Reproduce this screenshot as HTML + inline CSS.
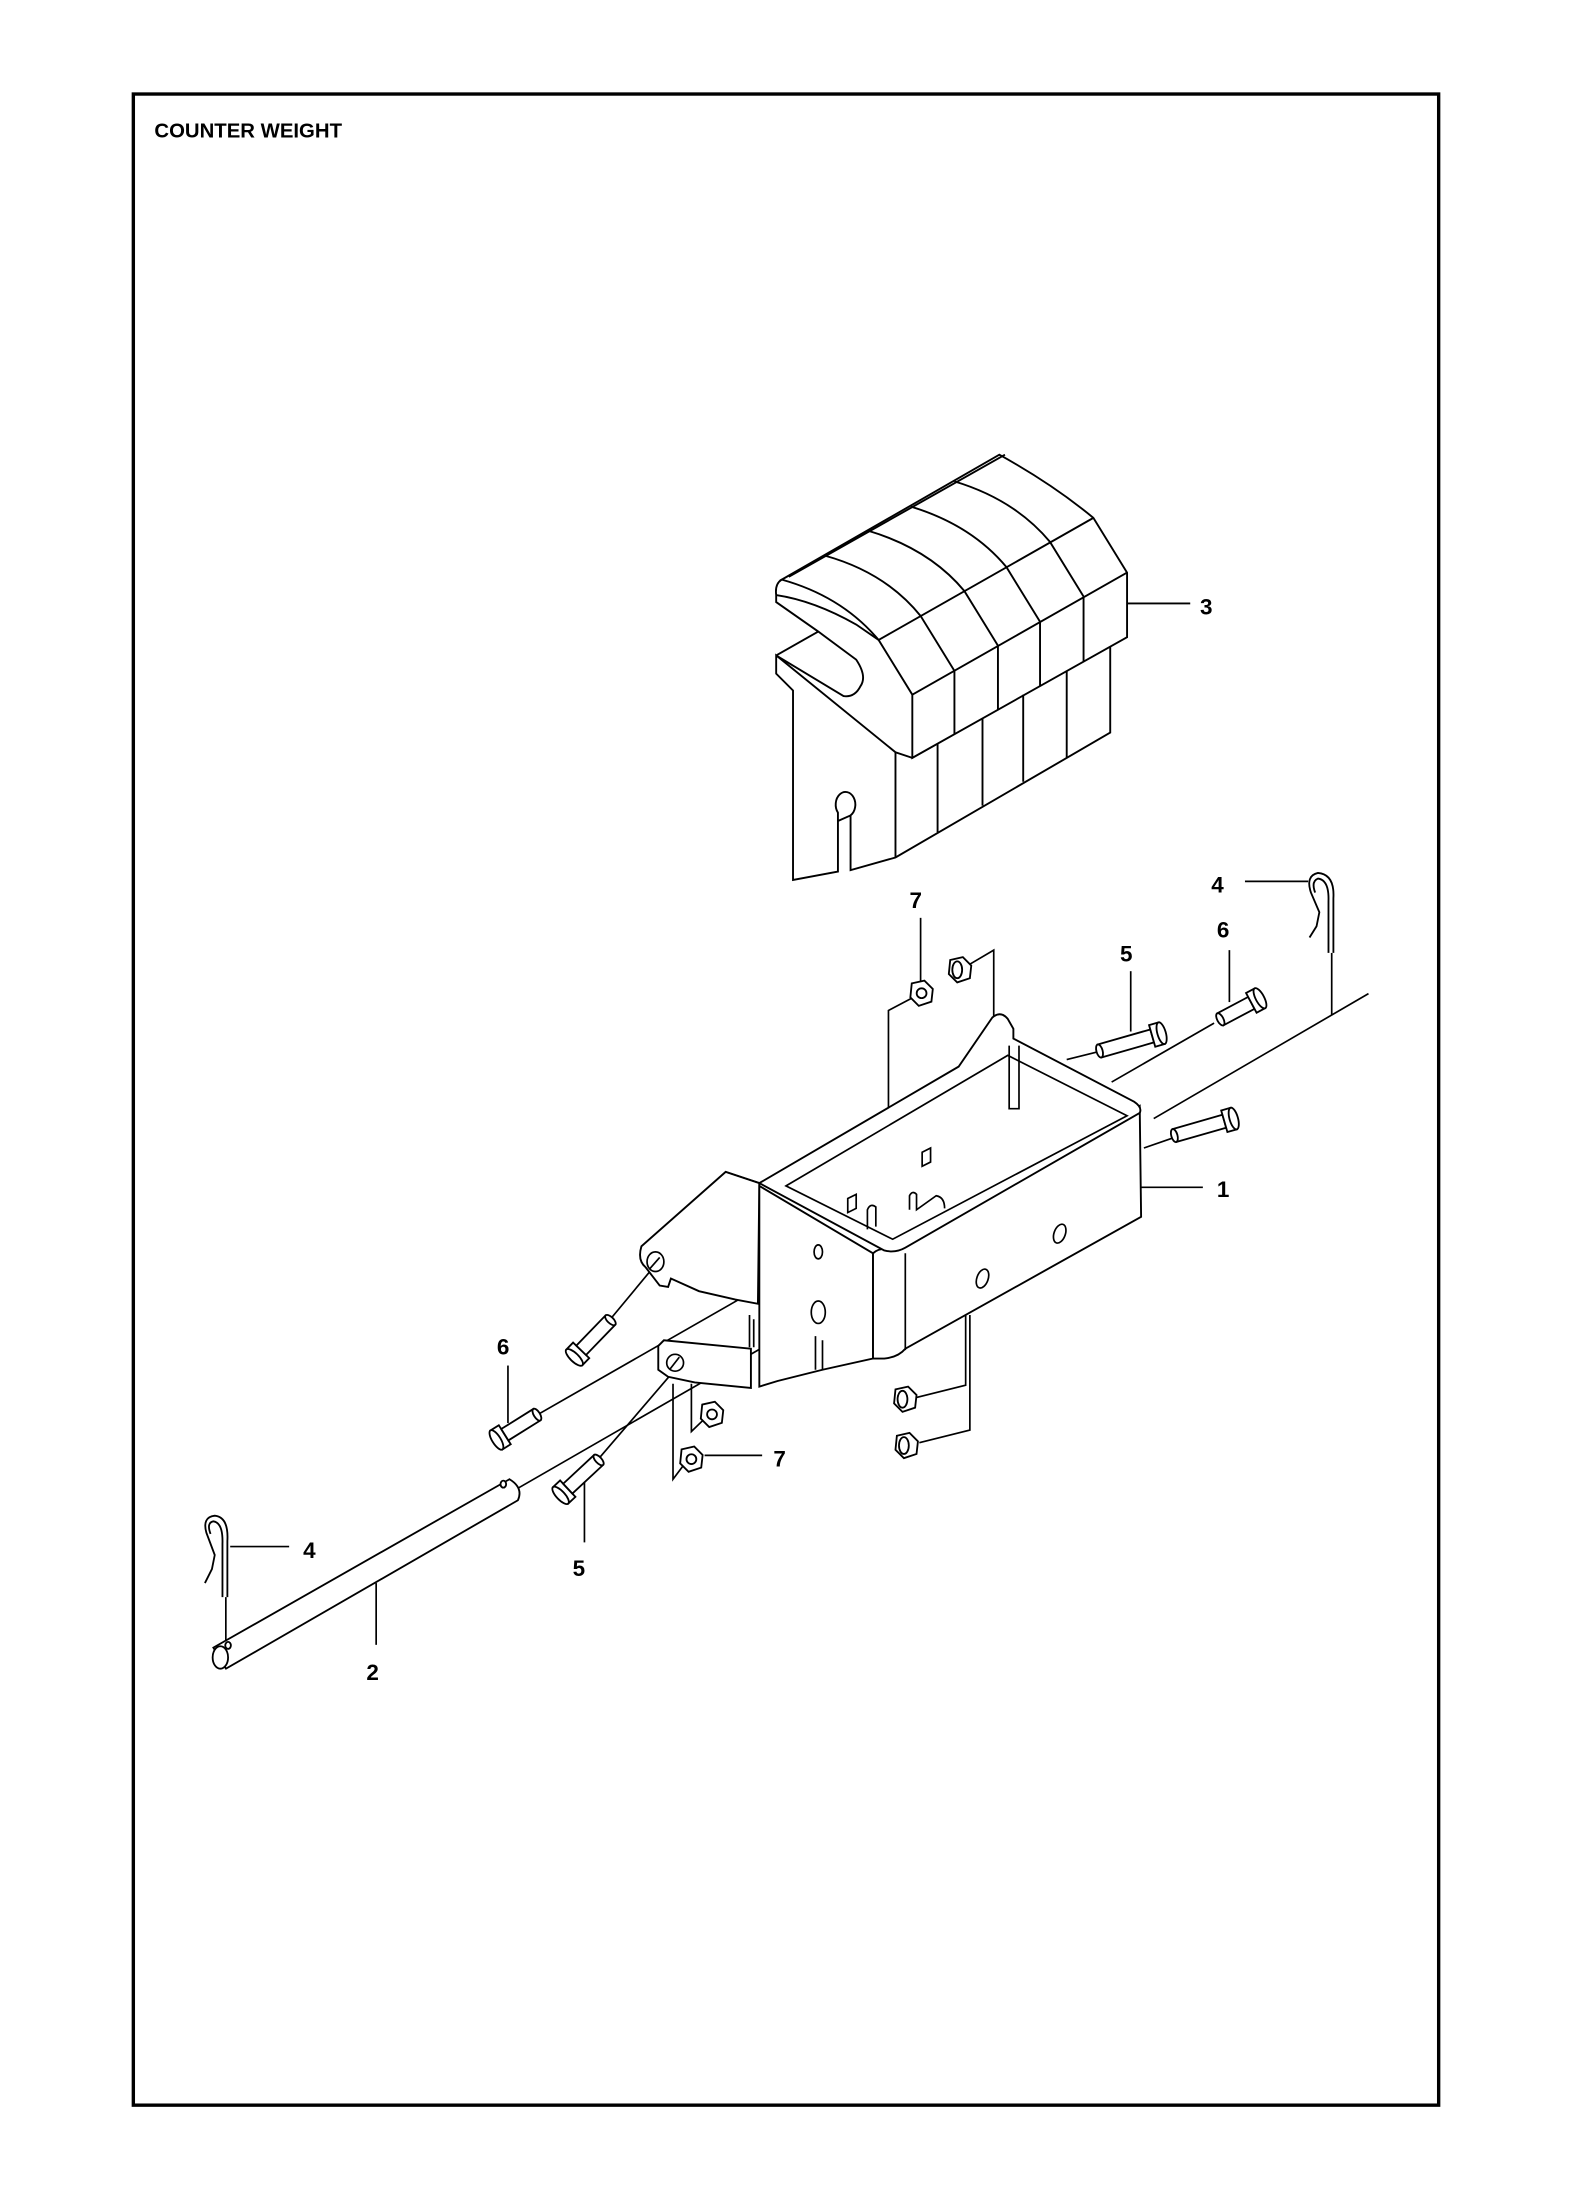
<!DOCTYPE html>
<html><head><meta charset="utf-8"><style>
html,body{margin:0;padding:0;background:#fff}
svg{display:block}
text{font-family:"Liberation Sans",Arial,sans-serif;font-weight:bold;fill:#000}
</style></head><body>
<svg width="1572" height="2202" viewBox="0 0 1120 1569" preserveAspectRatio="none" xmlns="http://www.w3.org/2000/svg">
<rect x="95" y="67" width="930" height="1433" fill="none" stroke="#000" stroke-width="2.4"/>
<text x="110" y="98" font-size="14.5">COUNTER WEIGHT</text>

<g fill="none" stroke="#000" stroke-width="1.35">
<!-- Weight 3 -->
<g fill="#fff">
<path d="M553,467 L553,480 L565,492 L565,627 L597,621 L597,585 L606,581 L606,620 L638,611 L791,522 L791,460 L650,540 L638,536 Z"/>
<path d="M557,413 Q552,416 553,424 L553,429 L583,450 L610,470 Q618,482 613,489 Q609,497 601,496 L553,467"/>
<path d="M557,413 L712,324 Q750,345 779,369 L803,408 L803,454 L650,540 L650,495 L626,456 Q600,425 557,413 Z"/>
</g>
<path d="M553,467 L583,450"/>
<path d="M553,424 Q580,428 610,445 L626,456"/>
<path d="M562,411 L716,324"/>
<path d="M680,478 L656,439 Q631,408 588,396"/>
<path d="M711,460 L687,421 Q662,391 618,378"/>
<path d="M741,443 L717,404 Q692,374 649,361"/>
<path d="M772,425 L748,386 Q723,356 680,343"/>
<path d="M626,456 L779,369"/>
<path d="M650,495 L803,408"/>
<path d="M680,478 L680,523 M711,460 L711,506 M741,443 L741,489 M772,425 L772,471"/>
<path d="M638,536 L638,611"/>
<path d="M668,530 L668,593 M700,512 L700,574 M729,495 L729,557 M760,478 L760,540"/>
<path d="M597,585 L597,579 A7,9 0 1 1 606,581"/>
<path d="M803,430 L848,430"/>
</g>
<text x="855" y="438" font-size="16">3</text>

<!-- leader / axis lines -->
<g fill="none" stroke="#000" stroke-width="1.2">
<path d="M975,708 L822,797"/>
<path d="M865,729 L792,771"/>
<path d="M784,749 L760,755"/>
<path d="M838,810 L815,818"/>
<path d="M812,846 L857,846"/>
<path d="M368,1061 L587,935"/>
<path d="M383,1008 L584,893"/>
<path d="M426,1040 L486,970"/>
<path d="M434,941 L468,900"/>
<path d="M655.9,654 L655.9,700"/>
<path d="M650,711 L633,720 L633,868"/>
<path d="M691,687 L708,677 L708,830"/>
<path d="M805.6,692 L805.6,735"/>
<path d="M875.9,677 L875.9,714"/>
<path d="M887,628 L932,628"/>
<path d="M948.8,679 L948.8,723"/>
<path d="M688,937 L688,987 L652,996"/>
<path d="M691,937 L691,1019 L655,1028"/>
<path d="M479.5,986 L479.5,1054 L490,1040"/>
<path d="M492.6,986 L492.6,1020 L505,1008"/>
<path d="M502,1037 L543,1037"/>
<path d="M361.9,973 L361.9,1014"/>
<path d="M416.4,1055 L416.4,1099"/>
<path d="M268,1128 L268,1172"/>
<path d="M164,1102 L206,1102"/>
<path d="M160.9,1138 L160.9,1170"/>
</g>

<!-- Frame 1 -->
<g fill="#fff" stroke="#000" stroke-width="1.35">
<path d="M517,835 L457,888 Q454,898 460,903 L470,916 L476,917 L478,911 L498,920 L524,926 L540,929 L541,843 Z"/>
<path d="M469,959 L473,955 L535,961 L535,989 L495,985 L476,981 L469,976 Z"/>
<path d="M541,845 L541,988 L554,984 L586,976 L622,968 L622,893 Z"/>
<path d="M634,890 L812,788 L813,867 L645,961 Q640,967 630,968 L622,968 L622,893 Q626,889 634,890 Z"/>
<path d="M541,843 L683,760 L707,725 Q713,720 718,726 L722,733 L722,740 L808,785 Q814,789 812,793 L645,889 Q638,893 630,891 L541,843 Z"/>
</g>
<g fill="none" stroke="#000" stroke-width="1.2">
<path d="M560,845 L718,752 L803,795 L636,883 Z"/>
<path d="M517,835 L541,843"/>
<path d="M645,893 L645,962"/>
<path d="M719,745 L719,790 L726,790 L726,745"/>
<ellipse cx="467" cy="899" rx="6" ry="7"/>
<path d="M463,904 L470,896"/>
<ellipse cx="481" cy="971" rx="6" ry="6"/>
<path d="M477,976 L484,967"/>
<ellipse cx="583" cy="892" rx="3" ry="5"/>
<ellipse cx="583" cy="935" rx="5" ry="8"/>
<ellipse cx="755" cy="879" rx="4" ry="7" transform="rotate(20 755 879)"/>
<ellipse cx="700" cy="911" rx="4" ry="7" transform="rotate(20 700 911)"/>
<path d="M581,952 L581,976 M586,955 L586,976"/>
<path d="M534,937 L534,960 M537,940 L537,960"/>
<path d="M657,821 L663,818 L663,828 L657,831 Z"/>
<path d="M604,854 L610,851 L610,861 L604,864 Z"/>
<path d="M618,876 L618,862 Q620,857 624,860 L624,874"/>
<path d="M648,862 L648,852 Q650,848 653,851 L653,862 L667,852 Q673,853 673,861"/>
</g>

<!-- Pin 2 -->
<g fill="#fff" stroke="#000" stroke-width="1.3">
<path d="M152,1174 L363,1054 Q373,1060 369,1069 L161,1189 Z"/>
<ellipse cx="157" cy="1181" rx="5.5" ry="8"/>
<ellipse cx="162.5" cy="1172.4" rx="2" ry="2.5"/>
<ellipse cx="358.6" cy="1057.5" rx="2" ry="2.5"/>
</g>
<text x="261" y="1197" font-size="16">2</text>

<!-- clips 4 -->
<g fill="none" stroke="#000" stroke-width="1.3">
<path d="M162,1138 L162,1098 Q163,1081 153,1080 Q144,1081 147,1092 L153,1108 L151,1118 L146,1128 M158.5,1138 L158.5,1100 Q159,1085 152,1084 Q147,1085 150,1093"/>
<path d="M950,679 L950,640 Q951,623 939,622 Q930,624 934,636 L940,650 L938,660 L933,668 M946.5,679 L946.5,642 Q947,627 939,626 Q934,628 937,636"/>
</g>
<text x="216" y="1110" font-size="16">4</text>
<text x="863" y="636" font-size="16">4</text>

<!-- Bolts -->
<g fill="#fff" stroke="#000" stroke-width="1.3">
<g transform="translate(827.6,736.2) rotate(164)"><rect x="7" y="-4.8" width="39" height="9.6"/><ellipse cx="46" cy="0" rx="2.2" ry="4.8"/><rect x="0" y="-8" width="7" height="16"/><ellipse cx="0" cy="0" rx="3" ry="8"/></g>
<g transform="translate(897.7,711.3) rotate(152)"><rect x="7" y="-4.8" width="25" height="9.6"/><ellipse cx="32" cy="0" rx="2.2" ry="4.8"/><rect x="0" y="-8" width="7" height="16"/><ellipse cx="0" cy="0" rx="3" ry="8"/></g>
<g transform="translate(879,797) rotate(164)"><rect x="7" y="-4.8" width="37" height="9.6"/><ellipse cx="44" cy="0" rx="2.2" ry="4.8"/><rect x="0" y="-8" width="7" height="16"/><ellipse cx="0" cy="0" rx="3" ry="8"/></g>
<g transform="translate(353.7,1026) rotate(-32)"><rect x="0" y="-8" width="7" height="16"/><ellipse cx="0" cy="0" rx="3" ry="8"/><rect x="7" y="-4.8" width="27" height="9.6"/><ellipse cx="34" cy="0" rx="2.2" ry="4.8"/></g>
<g transform="translate(399.4,1065.5) rotate(-43)"><rect x="0" y="-8" width="7" height="16"/><ellipse cx="0" cy="0" rx="3" ry="8"/><rect x="7" y="-4.8" width="30" height="9.6"/><ellipse cx="37" cy="0" rx="2.2" ry="4.8"/></g>
<g transform="translate(409.2,967.2) rotate(-46)"><rect x="0" y="-8" width="7" height="16"/><ellipse cx="0" cy="0" rx="3" ry="8"/><rect x="7" y="-4.8" width="30" height="9.6"/><ellipse cx="37" cy="0" rx="2.2" ry="4.8"/></g>
</g>

<!-- Nuts -->
<g fill="#fff" stroke="#000" stroke-width="1.3">
<g transform="translate(656.6,707.7)"><path d="M-7,-7 L2,-9 L8,-3 L7,6 L-2,9 L-8,3 Z"/><circle r="3.5"/></g>
<g transform="translate(684,691)"><path d="M-7,-7 L2,-9 L8,-3 L7,6 L-2,9 L-8,3 Z"/><ellipse cx="-2" cy="0" rx="3.5" ry="6"/></g>
<g transform="translate(645,997)"><path d="M-7,-7 L2,-9 L8,-3 L7,6 L-2,9 L-8,3 Z"/><ellipse cx="-2" cy="0" rx="3.5" ry="6"/></g>
<g transform="translate(646,1030)"><path d="M-7,-7 L2,-9 L8,-3 L7,6 L-2,9 L-8,3 Z"/><ellipse cx="-2" cy="0" rx="3.5" ry="6"/></g>
<g transform="translate(507.3,1007.8)"><path d="M-7,-7 L2,-9 L8,-3 L7,6 L-2,9 L-8,3 Z"/><circle r="3.5"/></g>
<g transform="translate(492.6,1039.7)"><path d="M-7,-7 L2,-9 L8,-3 L7,6 L-2,9 L-8,3 Z"/><circle r="3.5"/></g>
</g>

<text x="867" y="853" font-size="16">1</text>
<text x="648" y="647" font-size="16">7</text>
<text x="551" y="1045" font-size="16">7</text>
<text x="798" y="685" font-size="16">5</text>
<text x="408" y="1123" font-size="16">5</text>
<text x="867" y="668" font-size="16">6</text>
<text x="354" y="965" font-size="16">6</text>
</svg>
</body></html>
